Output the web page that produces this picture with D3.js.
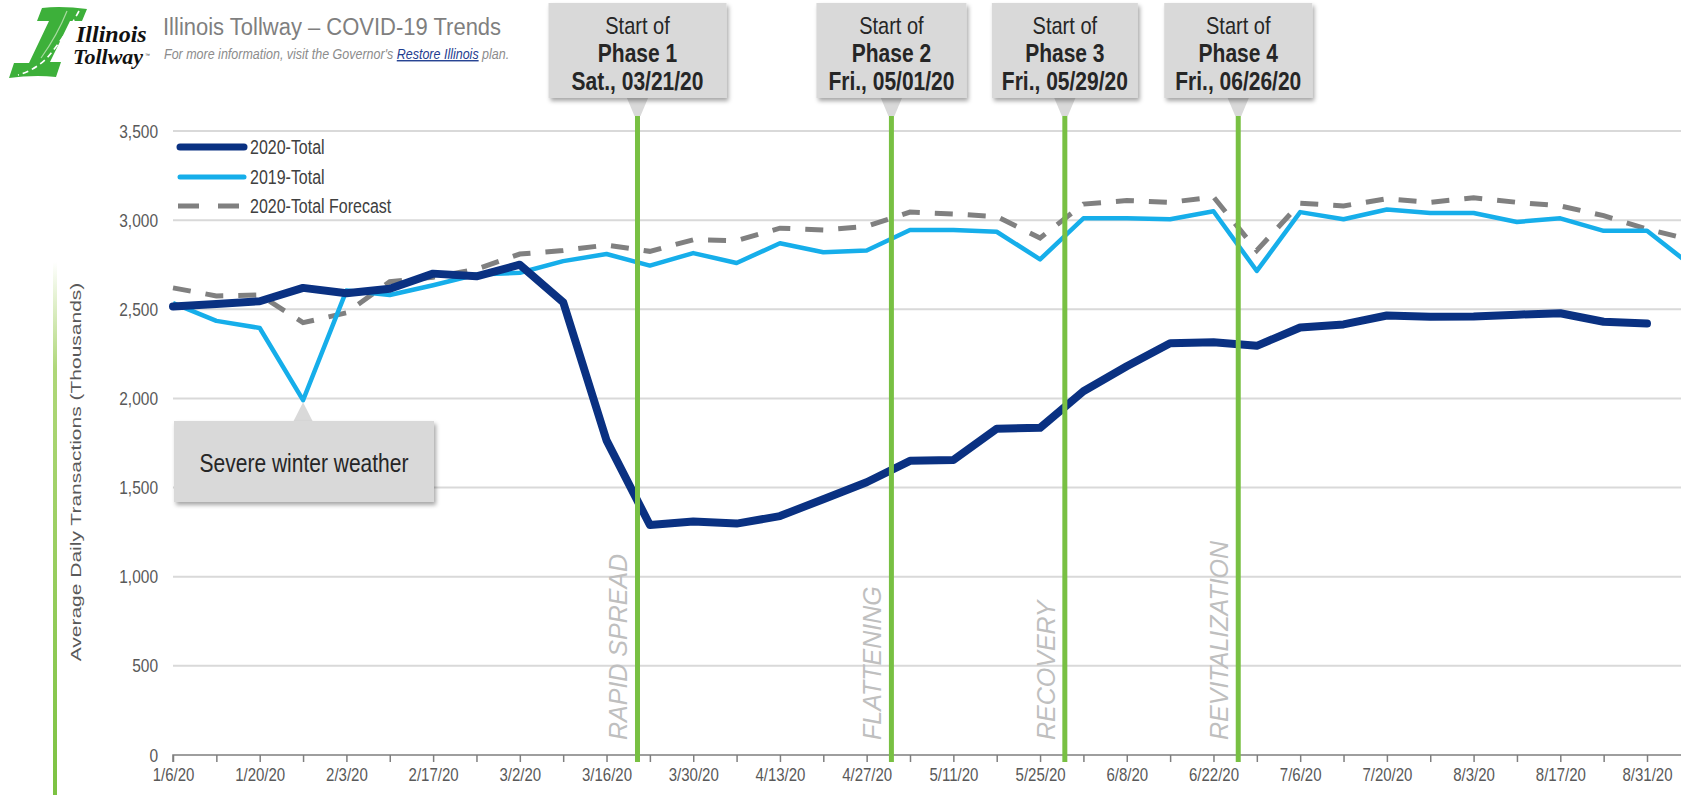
<!DOCTYPE html>
<html>
<head>
<meta charset="utf-8">
<script src="https://cdn.jsdelivr.net/npm/d3@7"></script>
<style>
  html, body { margin: 0; padding: 0; background: #ffffff; overflow: hidden; }
  svg { display: block; font-family: "Liberation Sans", Arial, sans-serif; }
</style>
</head>
<body>
<svg id="chart" width="1681" height="795"></svg>
<script>
// Weekly periods (week starting Monday)
const weeks = [
  "2020-01-06","2020-01-13","2020-01-20","2020-01-27","2020-02-03","2020-02-10","2020-02-17","2020-02-24",
  "2020-03-02","2020-03-09","2020-03-16","2020-03-23","2020-03-30","2020-04-06","2020-04-13","2020-04-20",
  "2020-04-27","2020-05-04","2020-05-11","2020-05-18","2020-05-25","2020-06-01","2020-06-08","2020-06-15",
  "2020-06-22","2020-06-29","2020-07-06","2020-07-13","2020-07-20","2020-07-27","2020-08-03","2020-08-10",
  "2020-08-17","2020-08-24","2020-08-31","2020-09-07"
];

// Average daily transactions, thousands
const total2020 = [
  2515, 2530, 2545, 2620, 2590, 2615, 2700, 2685, 2750, 2540, 1765, 1290, 1310, 1298, 1340, 1435,
  1530, 1650, 1655, 1830, 1835, 2040, 2180, 2310, 2315, 2295, 2398, 2415, 2465, 2458, 2460, 2470,
  2478, 2430, 2420
];
const total2019 = [
  2535, 2435, 2395, 1990, 2605, 2580, 2635, 2695, 2705, 2770, 2810, 2745, 2815, 2760, 2870, 2820,
  2830, 2945, 2945, 2935, 2780, 3010, 3010, 3005, 3050, 2715, 3045, 3005, 3060, 3040, 3040, 2990,
  3010, 2940, 2940, 2750
];
const forecast2020 = [
  2620, 2575, 2580, 2425, 2480, 2655, 2680, 2725, 2810, 2830, 2860, 2825, 2890, 2885, 2955, 2945,
  2965, 3045, 3035, 3020, 2900, 3090, 3110, 3100, 3130, 2830, 3095, 3080, 3120, 3100, 3125, 3100,
  3080, 3025, 2950, 2890
];

const yTicks = [0, 500, 1000, 1500, 2000, 2500, 3000, 3500];

const phaseDates = ["2020-03-21", "2020-05-01", "2020-05-29", "2020-06-26"];
const phaseNames = ["Phase 1", "Phase 2", "Phase 3", "Phase 4"];
const phaseDays  = ["Sat., 03/21/20", "Fri., 05/01/20", "Fri., 05/29/20", "Fri., 06/26/20"];
const phaseStages = ["RAPID SPREAD", "FLATTENING", "RECOVERY", "REVITALIZATION"];

const seriesNames = ["2020-Total", "2019-Total", "2020-Total Forecast"];

const parse = d3.utcParse("%Y-%m-%d");
const weekDates = weeks.map(parse);

const svg = d3.select("#chart");

const x = d3.scaleUtc()
  .domain([parse("2020-01-06"), parse("2020-08-31")])
  .range([173, 1647]);
const y = d3.scaleLinear().domain([0, 3500]).range([755, 131]);

// Tall, condensed-looking lettering: place text at (px, py) and stretch it vertically
const TALL = 1.22;
function tallText(parent, px, py, sy = TALL) {
  return parent.append("text")
    .attr("transform", `translate(${px},${py}) scale(1,${sy})`);
}

const defs = svg.append("defs");
const shadow = defs.append("filter").attr("id", "shadow")
  .attr("x", "-10%").attr("y", "-10%").attr("width", "130%").attr("height", "140%");
shadow.append("feDropShadow").attr("dx", 2).attr("dy", 3).attr("stdDeviation", 2)
  .attr("flood-color", "#000").attr("flood-opacity", 0.35);
const fade = defs.append("linearGradient").attr("id", "sideFade")
  .attr("x1", 0).attr("y1", 0).attr("x2", 0).attr("y2", 1);
fade.append("stop").attr("offset", "0%").attr("stop-color", "#8dc63f").attr("stop-opacity", 0);
fade.append("stop").attr("offset", "20%").attr("stop-color", "#8dc63f").attr("stop-opacity", 0.7);
fade.append("stop").attr("offset", "100%").attr("stop-color", "#7cc242").attr("stop-opacity", 1);

// Side accent bar
svg.append("rect").attr("x", 53).attr("y", 262).attr("width", 4).attr("height", 533)
  .attr("fill", "url(#sideFade)");

// ---------- Header ----------
const logo = svg.append("g").attr("class", "logo");
logo.append("path")
  .attr("d", "M42,8 C56,6 72,7 87,9 L82,21 L70,21 L50,62 L61,62 L56,77 C40,75 24,76 9,78 L14,63 L29,63 L49,21 L37,21 Z")
  .attr("fill", "#3db03a");
logo.append("path")
  .attr("d", "M79,11 C71,26 59,44 47,58 C39,66 29,72 18,75")
  .attr("fill", "none").attr("stroke", "#ffffff").attr("stroke-width", 1.6)
  .attr("stroke-dasharray", "6,4");
logo.append("path")
  .attr("d", "M67,11 C61,26 51,44 41,58")
  .attr("fill", "none").attr("stroke", "#a8dba0").attr("stroke-width", 1.2);
logo.append("text").attr("x", 76).attr("y", 42)
  .attr("font-family", "'Liberation Serif', 'DejaVu Serif', serif")
  .attr("font-style", "italic").attr("font-weight", "bold").attr("font-size", 24)
  .attr("fill", "#111").text("Illinois");
logo.append("text").attr("x", 73).attr("y", 64)
  .attr("font-family", "'Liberation Serif', 'DejaVu Serif', serif")
  .attr("font-style", "italic").attr("font-weight", "bold").attr("font-size", 22)
  .attr("fill", "#111").text("Tollway");
logo.append("text").attr("x", 145).attr("y", 57).attr("font-size", 5).attr("fill", "#333").text("™");

tallText(svg, 163, 35, 1.12)
  .attr("font-size", 22).attr("fill", "#7f7f7f")
  .text("Illinois Tollway – COVID-19 Trends");
const sub = tallText(svg, 164, 59, 1.1)
  .attr("font-size", 12.5).attr("font-style", "italic").attr("fill", "#8c8c8c");
sub.append("tspan").text("For more information, visit the Governor's ");
sub.append("tspan").attr("fill", "#1f3d8f").attr("text-decoration", "underline").text("Restore Illinois");
sub.append("tspan").text(" plan.");

// ---------- Grid and axes ----------
svg.append("g").selectAll("line")
  .data(yTicks.filter(d => d > 0))
  .join("line")
  .attr("x1", 173).attr("x2", 1681)
  .attr("y1", d => y(d)).attr("y2", d => y(d))
  .attr("stroke", "#d9d9d9").attr("stroke-width", 2);

const yLabels = svg.append("g");
yTicks.forEach(v => {
  tallText(yLabels, 158, y(v) + 6.5)
    .attr("text-anchor", "end").attr("font-size", 15.5).attr("fill", "#595959")
    .text(d3.format(",")(v));
});

svg.append("text")
  .attr("transform", "translate(81,472) rotate(-90) scale(1.4,1)")
  .attr("text-anchor", "middle").attr("font-size", 15).attr("fill", "#595959")
  .text("Average Daily Transactions (Thousands)");

const tickDates = weekDates.slice(0, 36);
const xAxis = d3.axisBottom(x)
  .tickValues(tickDates)
  .tickSize(7)
  .tickFormat((d, i) => i % 2 === 0 ? d3.utcFormat("%-m/%-d/%y")(d) : "");
const gx = svg.append("g").attr("transform", "translate(0,755)").call(xAxis);
gx.select(".domain").attr("d", "M173,7V0H1690").attr("stroke", "#7f7f7f").attr("stroke-width", 1.5);
gx.selectAll(".tick line").attr("stroke", "#7f7f7f").attr("stroke-width", 1.5);
gx.selectAll(".tick text")
  .attr("y", null).attr("dy", null)
  .attr("transform", `translate(0,26) scale(1,${TALL})`)
  .attr("font-size", 15).attr("fill", "#595959")
  .attr("font-family", "'Liberation Sans', Arial, sans-serif");

// ---------- Series ----------
const line = d3.line().x(d => x(d.date)).y(d => y(d.value));
const toPoints = arr => arr.map((v, i) => ({ date: weekDates[i], value: v }));

svg.append("path").datum(toPoints(forecast2020))
  .attr("d", line).attr("fill", "none")
  .attr("stroke", "#808080").attr("stroke-width", 5)
  .attr("stroke-dasharray", "18,15");

svg.append("path").datum(toPoints(total2019))
  .attr("d", line).attr("fill", "none")
  .attr("stroke", "#16aeea").attr("stroke-width", 4.5)
  .attr("stroke-linejoin", "round");

svg.append("path").datum(toPoints(total2020))
  .attr("d", line).attr("fill", "none")
  .attr("stroke", "#0a3182").attr("stroke-width", 8)
  .attr("stroke-linejoin", "round").attr("stroke-linecap", "round");

// ---------- Phase markers ----------
const phases = phaseDates.map((d, i) => ({
  date: parse(d), name: phaseNames[i], day: phaseDays[i], stage: phaseStages[i]
}));
const boxW = [178, 150, 146, 148];

const pg = svg.append("g").selectAll("g").data(phases).join("g");

pg.append("line")
  .attr("x1", d => x(d.date)).attr("x2", d => x(d.date))
  .attr("y1", 112).attr("y2", 762)
  .attr("stroke", "#78c043").attr("stroke-width", 5);

pg.append("text")
  .attr("transform", d => `translate(${x(d.date) - 10},740) rotate(-90)`)
  .attr("font-size", 25).attr("font-style", "italic").attr("fill", "#bfbfbf")
  .text(d => d.stage);

pg.append("path")
  .attr("d", d => {
    const cx = x(d.date);
    return `M${cx - 11},97 L${cx + 11},97 L${cx + 3},116 L${cx - 3},116 Z`;
  })
  .attr("fill", "#d9d9d9");

pg.append("rect")
  .attr("x", (d, i) => x(d.date) - boxW[i] / 2).attr("y", 3)
  .attr("width", (d, i) => boxW[i]).attr("height", 95)
  .attr("fill", "#d9d9d9").attr("filter", "url(#shadow)");

pg.each(function (d) {
  const g = d3.select(this);
  const cx = x(d.date);
  tallText(g, cx, 34).attr("text-anchor", "middle").attr("font-size", 20)
    .attr("fill", "#262626").text("Start of");
  tallText(g, cx, 62).attr("text-anchor", "middle").attr("font-size", 21)
    .attr("font-weight", "bold").attr("fill", "#262626").text(d.name);
  tallText(g, cx, 90).attr("text-anchor", "middle").attr("font-size", 21)
    .attr("font-weight", "bold").attr("fill", "#262626").text(d.day);
});

// ---------- Weather callout ----------
const stormIdx = 3;
const sx = x(weekDates[stormIdx]), sy = y(total2019[stormIdx]);
const callout = svg.append("g");
callout.append("path")
  .attr("d", `M${sx - 11},424 L${sx},${sy + 2} L${sx + 11},424 Z`)
  .attr("fill", "#d9d9d9");
callout.append("rect").attr("x", 174).attr("y", 421).attr("width", 260).attr("height", 81)
  .attr("fill", "#d9d9d9").attr("filter", "url(#shadow)");
tallText(callout, 304, 472)
  .attr("text-anchor", "middle").attr("font-size", 21).attr("fill", "#262626")
  .text("Severe winter weather");

// ---------- Legend ----------
const legend = svg.append("g");
const legendY = [147, 177, 206];
legend.append("line").attr("x1", 180).attr("x2", 244).attr("y1", legendY[0]).attr("y2", legendY[0])
  .attr("stroke", "#0a3182").attr("stroke-width", 7).attr("stroke-linecap", "round");
legend.append("line").attr("x1", 180).attr("x2", 244).attr("y1", legendY[1]).attr("y2", legendY[1])
  .attr("stroke", "#16aeea").attr("stroke-width", 5).attr("stroke-linecap", "round");
legend.append("line").attr("x1", 178).attr("x2", 240).attr("y1", legendY[2]).attr("y2", legendY[2])
  .attr("stroke", "#808080").attr("stroke-width", 5).attr("stroke-dasharray", "21,19");
seriesNames.forEach((name, i) => {
  tallText(legend, 250, legendY[i] + 6.5)
    .attr("font-size", 16).attr("fill", "#404040")
    .text(name);
});
</script>
</body>
</html>
